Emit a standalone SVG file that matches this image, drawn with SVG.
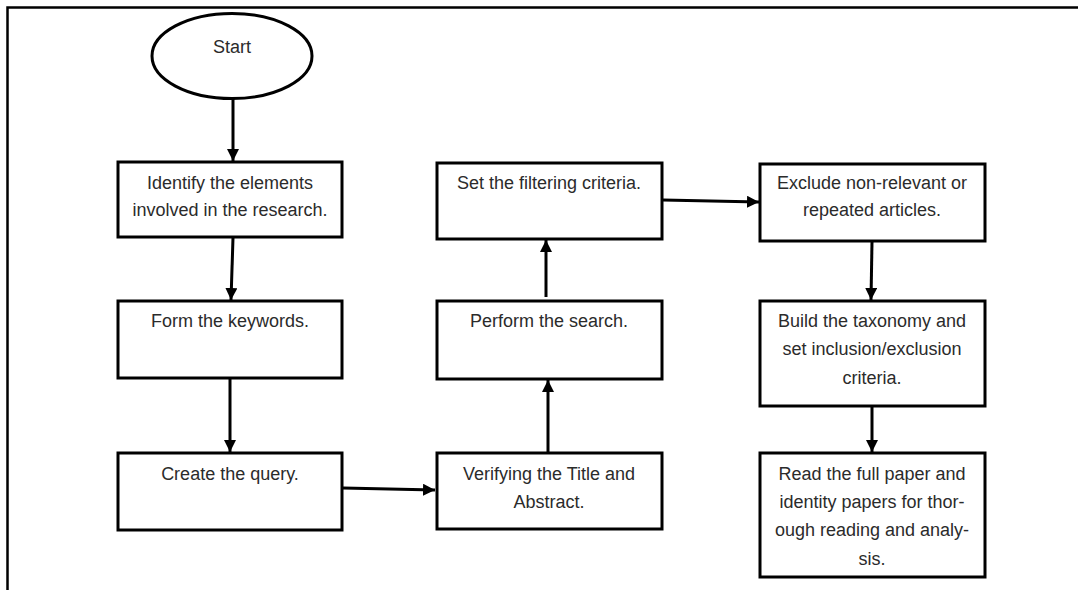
<svg xmlns="http://www.w3.org/2000/svg" width="1078" height="590" viewBox="0 0 1078 590">
<defs>
<style>
.box{fill:#fff;stroke:#000;stroke-width:3}
.t{font-family:"Liberation Sans",Arial,sans-serif;font-size:18px;fill:#2b2b2b;text-anchor:middle}
.c{fill:none;stroke:#000;stroke-width:3}
</style>
<marker id="ah" markerUnits="userSpaceOnUse" markerWidth="12" markerHeight="12" viewBox="0 0 10 10" refX="10" refY="5" orient="auto">
<path d="M0,0 L10,5 L0,10 z" fill="#000"/>
</marker>
</defs>
<rect width="1078" height="590" fill="#fff"/>
<path d="M7.5,590 V7.5 H1078" fill="none" stroke="#000" stroke-width="2.5"/>
<g id="start">
<ellipse cx="232" cy="56" rx="80" ry="42.5" class="box"/>
<text class="t" x="232" y="53">Start</text>
</g>
<g id="n1">
<rect x="118" y="162" width="224" height="75" class="box"/>
<text class="t" x="230" y="189">Identify the elements</text>
<text class="t" x="230" y="216">involved in the research.</text>
</g>
<g id="n2">
<rect x="118" y="301" width="224" height="77" class="box"/>
<text class="t" x="230" y="327">Form the keywords.</text>
</g>
<g id="n3">
<rect x="118" y="453" width="224" height="77" class="box"/>
<text class="t" x="230" y="480">Create the query.</text>
</g>
<g id="n4">
<rect x="437" y="453" width="225" height="76" class="box"/>
<text class="t" x="549" y="480">Verifying the Title and</text>
<text class="t" x="549" y="508">Abstract.</text>
</g>
<g id="n5">
<rect x="437" y="301" width="225" height="78" class="box"/>
<text class="t" x="549" y="327">Perform the search.</text>
</g>
<g id="n6">
<rect x="437" y="163" width="225" height="76" class="box"/>
<text class="t" x="549" y="189">Set the filtering criteria.</text>
</g>
<g id="n7">
<rect x="760" y="164" width="225" height="77" class="box"/>
<text class="t" x="872" y="189">Exclude non-relevant or</text>
<text class="t" x="872" y="216">repeated articles.</text>
</g>
<g id="n8">
<rect x="760" y="301" width="225" height="105" class="box"/>
<text class="t" x="872" y="327">Build the taxonomy and</text>
<text class="t" x="872" y="355">set inclusion/exclusion</text>
<text class="t" x="872" y="384">criteria.</text>
</g>
<g id="n9">
<rect x="760" y="453" width="225" height="124" class="box"/>
<text class="t" x="872" y="480">Read the full paper and</text>
<text class="t" x="872" y="508">identity papers for thor-</text>
<text class="t" x="872" y="536">ough reading and analy-</text>
<text class="t" x="872" y="565">sis.</text>
</g>
<g id="connectors">
<line class="c" x1="233" y1="99" x2="233" y2="161" marker-end="url(#ah)"/>
<line class="c" x1="233" y1="238" x2="231" y2="300" marker-end="url(#ah)"/>
<line class="c" x1="230" y1="379" x2="230" y2="452" marker-end="url(#ah)"/>
<line class="c" x1="343" y1="488" x2="435" y2="490" marker-end="url(#ah)"/>
<line class="c" x1="548" y1="452" x2="548" y2="380" marker-end="url(#ah)"/>
<line class="c" x1="546" y1="297" x2="546" y2="240" marker-end="url(#ah)"/>
<line class="c" x1="663" y1="200" x2="759" y2="202" marker-end="url(#ah)"/>
<line class="c" x1="872" y1="242" x2="871" y2="300" marker-end="url(#ah)"/>
<line class="c" x1="872" y1="407" x2="872" y2="452" marker-end="url(#ah)"/>
</g>
</svg>
